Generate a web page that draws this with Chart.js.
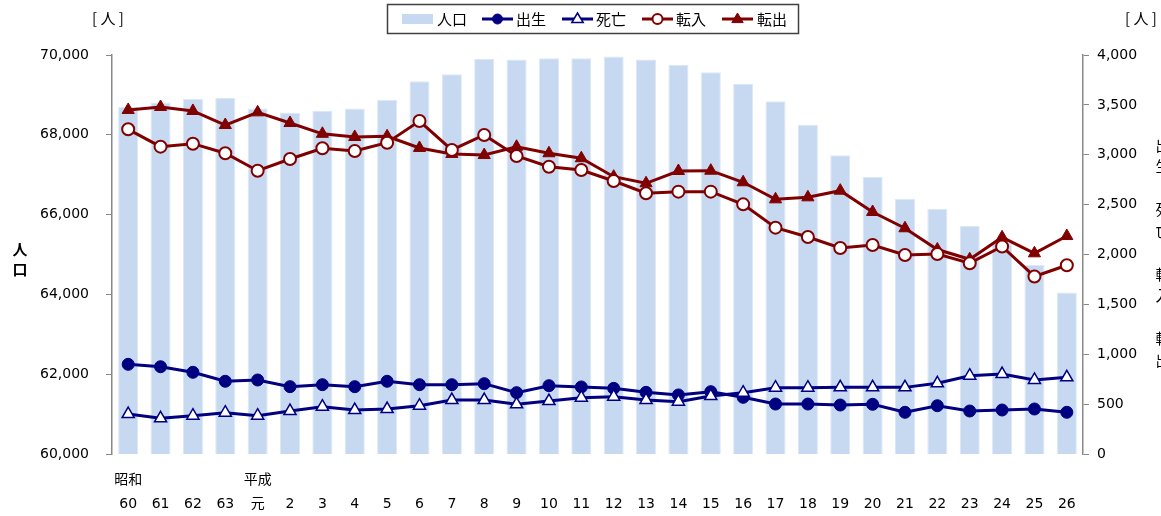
<!DOCTYPE html>
<html>
<head>
<meta charset="utf-8">
<script src="https://cdn.jsdelivr.net/npm/chart.js@4/dist/chart.umd.min.js"></script>
<style>
  html, body { margin: 0; padding: 0; background: #fff; }
  #wrap { width: 1161px; height: 516px; position: relative; }
</style>
</head>
<body>
<div id="wrap"><canvas id="chart"></canvas></div>
<script>
const eras = ['昭和', '', '', '', '平成', '', '', '', '', '', '', '', '', '', '', '', '', '', '', '', '', '', '', '', '', '', '', '', '', ''];
const years = ['60', '61', '62', '63', '元', '2', '3', '4', '5', '6', '7', '8', '9', '10', '11', '12', '13', '14', '15', '16', '17', '18', '19', '20', '21', '22', '23', '24', '25', '26'];

const population = [68700, 68810, 68900, 68930, 68660, 68550, 68600, 68660, 68870, 69340, 69520, 69900, 69890, 69920, 69920, 69960, 69890, 69750, 69570, 69280, 68840, 68250, 67490, 66940, 66400, 66140, 65720, 65280, 64740, 64050];
const births = [899, 875, 819, 729, 742, 675, 695, 675, 729, 695, 695, 705, 615, 685, 672, 658, 618, 592, 625, 568, 501, 501, 491, 498, 418, 484, 431, 441, 451, 418];
const deaths = [401, 358, 384, 414, 384, 431, 474, 441, 451, 484, 541, 541, 498, 531, 564, 574, 541, 524, 581, 615, 665, 665, 668, 668, 668, 709, 785, 802, 742, 769];
const moveIn = [3255, 3081, 3111, 3015, 2840, 2957, 3065, 3038, 3121, 3338, 3048, 3198, 2988, 2880, 2847, 2737, 2614, 2630, 2630, 2503, 2269, 2175, 2065, 2095, 1995, 2005, 1913, 2080, 1780, 1892];
const moveOut = [3449, 3479, 3439, 3298, 3425, 3318, 3210, 3178, 3185, 3068, 3008, 2997, 3080, 3015, 2965, 2780, 2714, 2837, 2840, 2724, 2553, 2573, 2640, 2426, 2263, 2050, 1952, 2172, 2012, 2185];

const leftTicks = [60000, 62000, 64000, 66000, 68000, 70000];
const rightTicks = [0, 500, 1000, 1500, 2000, 2500, 3000, 3500, 4000];

const NAVY = '#000080';
const RED = '#800000';
const BAR = '#c6d9f1';
const NUM_FONT = "'DejaVu Sans', Verdana, sans-serif";
const JP_FONT = "'Noto Sans CJK JP', sans-serif";

const labels = years.map((y, i) => [eras[i], y]);

function fmt(v) {
    return v.toString().replace(/\B(?=(\d{3})+(?!\d))/g, ',');
}

// legend, unit labels and axis titles drawn straight on the canvas
const extras = {
    id: 'extras',
    afterDraw(chart) {
        const c = chart.ctx;
        c.save();
        // legend box
        c.strokeStyle = '#404040';
        c.lineWidth = 1.5;
        c.strokeRect(387.5, 4.5, 411, 29);
        c.fillStyle = BAR;
        c.fillRect(402, 14, 31, 10);
        c.font = '15px ' + JP_FONT;
        c.fillStyle = '#000';
        c.textBaseline = 'middle';
        c.fillText('人口', 437, 19);

        const items = [
            { ds: 1, x0: 482, tx: 516 },
            { ds: 2, x0: 562, tx: 596 },
            { ds: 3, x0: 642, tx: 676 },
            { ds: 4, x0: 722, tx: 757 }
        ];
        items.forEach(it => {
            const d = chart.data.datasets[it.ds];
            c.strokeStyle = d.borderColor;
            c.lineWidth = 3;
            c.beginPath();
            c.moveTo(it.x0, 19);
            c.lineTo(it.x0 + 31, 19);
            c.stroke();
            c.fillStyle = d.pointBackgroundColor;
            c.strokeStyle = d.pointBorderColor;
            c.lineWidth = d.pointBorderWidth;
            c.beginPath();
            if (d.pointStyle === 'circle') {
                c.arc(it.x0 + 15.5, 19, d.pointRadius - 1, 0, Math.PI * 2);
            } else {
                const r = d.pointRadius - 1;
                c.moveTo(it.x0 + 15.5, 19 - r);
                c.lineTo(it.x0 + 15.5 + r * 0.95, 19 + r * 0.6);
                c.lineTo(it.x0 + 15.5 - r * 0.95, 19 + r * 0.6);
                c.closePath();
            }
            c.fill();
            c.stroke();
            c.fillStyle = '#000';
            c.fillText(d.label, it.tx, 19);
        });

        // unit labels
        c.font = '15px ' + JP_FONT;
        c.fillText('[ 人 ]', 92, 18);
        c.fillText('[ 人 ]', 1125, 18);

        // left axis title
        c.font = 'bold 15px ' + JP_FONT;
        c.textAlign = 'center';
        c.fillText('人', 20, 249);
        c.fillText('口', 20, 269);

        // right axis title (runs off the edge)
        c.font = '15px ' + JP_FONT;
        const rt = '出生・死亡・転入・転出';
        for (let i = 0; i < rt.length; i++) {
            c.fillText(rt[i], 1163, 145 + i * 21.5);
        }
        c.restore();
    }
};

new Chart(document.getElementById('chart'), {
    data: {
        labels: labels,
        datasets: [{
            type: 'bar',
            label: '人口',
            data: population,
            yAxisID: 'y',
            backgroundColor: BAR,
            borderColor: '#dde8f6',
            borderWidth: 1,
            barPercentage: 0.62,
            categoryPercentage: 1,
            order: 10
        }, {
            type: 'line',
            label: '出生',
            data: births,
            yAxisID: 'y1',
            borderColor: NAVY,
            borderWidth: 3,
            pointStyle: 'circle',
            pointRadius: 6,
            pointBackgroundColor: NAVY,
            pointBorderColor: NAVY,
            pointBorderWidth: 1,
            order: 2
        }, {
            type: 'line',
            label: '死亡',
            data: deaths,
            yAxisID: 'y1',
            borderColor: NAVY,
            borderWidth: 3,
            pointStyle: 'triangle',
            pointRadius: 7,
            pointBackgroundColor: '#fff',
            pointBorderColor: NAVY,
            pointBorderWidth: 1.5,
            order: 1
        }, {
            type: 'line',
            label: '転入',
            data: moveIn,
            yAxisID: 'y1',
            borderColor: RED,
            borderWidth: 3,
            pointStyle: 'circle',
            pointRadius: 6,
            pointBackgroundColor: '#fff',
            pointBorderColor: RED,
            pointBorderWidth: 2,
            order: 1
        }, {
            type: 'line',
            label: '転出',
            data: moveOut,
            yAxisID: 'y1',
            borderColor: RED,
            borderWidth: 3,
            pointStyle: 'triangle',
            pointRadius: 7,
            pointBackgroundColor: RED,
            pointBorderColor: RED,
            pointBorderWidth: 1,
            order: 2
        }]
    },
    options: {
        responsive: true,
        maintainAspectRatio: false,
        animation: false,
        layout: {
            padding: { left: 0, right: 0, top: 55, bottom: 0 }
        },
        plugins: {
            legend: { display: false },
            tooltip: { enabled: false }
        },
        scales: {
            x: {
                grid: { display: false, drawTicks: false },
                border: { display: false },
                ticks: {
                    color: '#000',
                    font: { family: NUM_FONT + ", 'Noto Sans CJK JP'", size: 14, lineHeight: 1.75 },
                    padding: 14,
                    maxRotation: 0,
                    autoSkip: false
                },
                afterFit(scale) { scale.height = 62; }
            },
            y: {
                position: 'left',
                min: 60000,
                max: 70000,
                afterBuildTicks(scale) { scale.ticks = leftTicks.map(v => ({ value: v })); },
                grid: { drawOnChartArea: false, tickLength: 6, color: '#888' },
                border: { color: '#888', width: 1.5 },
                ticks: {
                    color: '#000',
                    font: { family: NUM_FONT, size: 14 },
                    padding: 17,
                    callback: v => fmt(v)
                },
                afterFit(scale) { scale.width = 112; }
            },
            y1: {
                position: 'right',
                min: 0,
                max: 4000,
                afterBuildTicks(scale) { scale.ticks = rightTicks.map(v => ({ value: v })); },
                grid: { drawOnChartArea: false, tickLength: 6, color: '#888' },
                border: { color: '#888', width: 1.5 },
                ticks: {
                    color: '#000',
                    font: { family: NUM_FONT, size: 14 },
                    padding: 8,
                    callback: v => fmt(v)
                },
                afterFit(scale) { scale.width = 78; }
            }
        }
    },
    plugins: [extras]
});
</script>
</body>
</html>
